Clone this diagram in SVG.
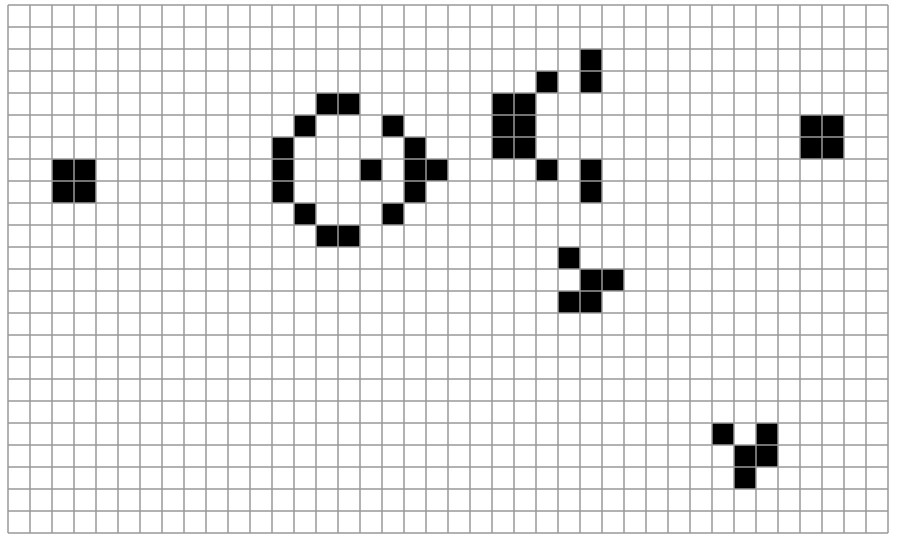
<svg xmlns="http://www.w3.org/2000/svg" width="904" height="536" viewBox="0 0 904 536">
<style>
.c{fill:#000}
.g{fill:none;stroke:#999;stroke-width:1.5}
</style>
<defs><rect id="cell" width="22" height="22"/></defs>
<rect width="904" height="536" fill="#fff"/>
<g id="cells" class="c">
<g id="block-left"><use href="#cell" x="52" y="159"/><use href="#cell" x="74" y="159"/><use href="#cell" x="52" y="181"/><use href="#cell" x="74" y="181"/></g>
<g id="ring">
<use href="#cell" x="316" y="93"/><use href="#cell" x="338" y="93"/>
<use href="#cell" x="294" y="115"/><use href="#cell" x="382" y="115"/>
<use href="#cell" x="272" y="137"/><use href="#cell" x="404" y="137"/>
<use href="#cell" x="272" y="159"/><use href="#cell" x="360" y="159"/><use href="#cell" x="404" y="159"/><use href="#cell" x="426" y="159"/>
<use href="#cell" x="272" y="181"/><use href="#cell" x="404" y="181"/>
<use href="#cell" x="294" y="203"/><use href="#cell" x="382" y="203"/>
<use href="#cell" x="316" y="225"/><use href="#cell" x="338" y="225"/>
</g>
<g id="cluster">
<use href="#cell" x="580" y="49"/>
<use href="#cell" x="536" y="71"/><use href="#cell" x="580" y="71"/>
<use href="#cell" x="492" y="93"/><use href="#cell" x="514" y="93"/>
<use href="#cell" x="492" y="115"/><use href="#cell" x="514" y="115"/>
<use href="#cell" x="492" y="137"/><use href="#cell" x="514" y="137"/>
<use href="#cell" x="536" y="159"/><use href="#cell" x="580" y="159"/>
<use href="#cell" x="580" y="181"/>
</g>
<g id="glider-1">
<use href="#cell" x="558" y="247"/>
<use href="#cell" x="580" y="269"/><use href="#cell" x="602" y="269"/>
<use href="#cell" x="558" y="291"/><use href="#cell" x="580" y="291"/>
</g>
<g id="glider-2">
<use href="#cell" x="712" y="423"/><use href="#cell" x="756" y="423"/>
<use href="#cell" x="734" y="445"/><use href="#cell" x="756" y="445"/>
<use href="#cell" x="734" y="467"/>
</g>
<g id="block-right"><use href="#cell" x="800" y="115"/><use href="#cell" x="822" y="115"/><use href="#cell" x="800" y="137"/><use href="#cell" x="822" y="137"/></g>
</g>
<g id="grid">
<path class="g" d="M8 5V533M30 5V533M52 5V533M74 5V533M96 5V533M118 5V533M140 5V533M162 5V533M184 5V533M206 5V533M228 5V533M250 5V533M272 5V533M294 5V533M316 5V533M338 5V533M360 5V533M382 5V533M404 5V533M426 5V533M448 5V533M470 5V533M492 5V533M514 5V533M536 5V533M558 5V533M580 5V533M602 5V533M624 5V533M646 5V533M668 5V533M690 5V533M712 5V533M734 5V533M756 5V533M778 5V533M800 5V533M822 5V533M844 5V533M866 5V533M888 5V533"/>
<path class="g" d="M8 5H888M8 27H888M8 49H888M8 71H888M8 93H888M8 115H888M8 137H888M8 159H888M8 181H888M8 203H888M8 225H888M8 247H888M8 269H888M8 291H888M8 313H888M8 335H888M8 357H888M8 379H888M8 401H888M8 423H888M8 445H888M8 467H888M8 489H888M8 511H888M8 533H888"/>
</g>
</svg>
